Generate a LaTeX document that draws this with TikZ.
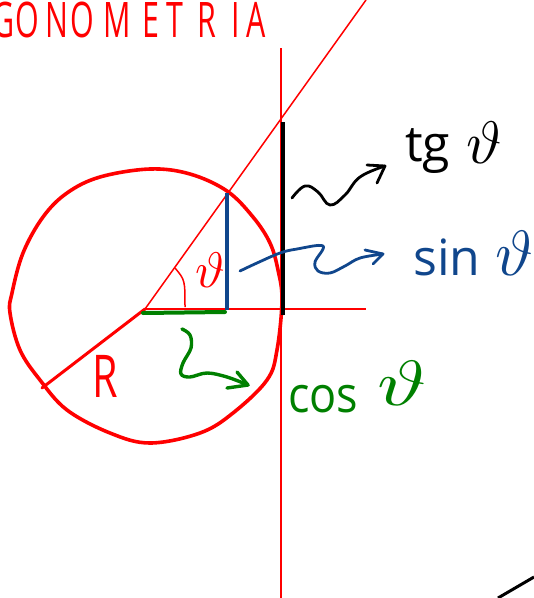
\documentclass[tikz,border=0pt]{standalone}
\usepackage{fontspec}
\setmainfont{Open Sans}
\definecolor{skred}{RGB}{255,0,0}
\definecolor{skblue}{RGB}{16,70,140}
\definecolor{skgreen}{RGB}{0,128,0}
\begin{document}
\begin{tikzpicture}[x=1pt,y=-1pt,
  thinred/.style={draw=skred,line width=1.5pt},
  thickred/.style={draw=skred,line width=3.6pt,line cap=round,line join=round},
  penline/.style={line width=2.8pt,line cap=round,line join=round},
  titleletter/.style={text=skred,anchor=base,xscale=0.62,inner sep=0pt,font=\fontsize{49}{50}\selectfont},
  lbl/.style={anchor=base west,inner sep=0pt,font=\fontsize{50}{60}\selectfont},
  thetasym/.style={inner sep=0pt}
]
\useasboundingbox (0,0) rectangle (534,598);
\clip (0,0) rectangle (534,598);

% title
\foreach \l/\x/\i in {G/4/1,O/27/2,N/57/3,O/82/4,M/117/5,E/151/6,T/175/7,R/207/8,I/236/9,A/256/10}
  \node[titleletter] (title\i) at (\x,37) {\l};

% key points
\coordinate (O) at (145,309);
\coordinate (Hend) at (366,309);
\coordinate (Dtop) at (366,0);
\coordinate (Vtop) at (281,48);
\coordinate (Vbot) at (281,598);
\coordinate (P) at (227,193);
\coordinate (Pfoot) at (227,310);
\coordinate (Gs) at (143,313);
\coordinate (Ge) at (225,312);
\coordinate (Ttop) at (283,122);
\coordinate (Tbot) at (283,315);
\coordinate (Rend) at (42,388);

% thin construction lines
\draw[thinred] (O) -- (Hend);
\draw[thinred] (O) -- (Dtop);
\draw[thinred] (Vtop) -- (Vbot);

% circle (hand drawn)
\draw[thickred] plot[smooth cycle,tension=0.6] coordinates {
 (10,313) (12,293) (23,253) (43,217) (67,193) (100,177) (150,169) (190,174)
 (227,191) (253,217) (270,243) (278,270) (282,300) (277,350) (267,380)
 (233,413) (200,433) (150,443) (110,433) (67,410) (40,380) (20,350)};

% radius
\draw[thickred,line width=3pt] (O) -- (Rend);

% angle arc
\draw[thinred] (175,268) .. controls (185,280) .. (185,307);

% segments
\draw[skblue,line width=3.5pt] (P) -- (Pfoot);
\draw[skgreen,line width=4pt,line cap=round] (Gs) -- (Ge);
\draw[black,line width=4.5pt] (Ttop) -- (Tbot);

% labels
\node[thetasym,text=skred,scale=5] (thetaA) at (210,270) {$\vartheta$};
\node[text=skred,anchor=base,inner sep=0pt,xscale=0.7,font=\fontsize{59}{60}\selectfont] (Rlbl) at (105,397) {R};

\node[lbl] (tg) at (405,161) {tg};
\node[thetasym,scale=6] (thetaT) at (484,143) {$\vartheta$};
\node[lbl,text=skblue] (sin) at (413,275) {sin};
\node[thetasym,text=skblue,scale=6.4] (thetaS) at (514,253) {$\vartheta$};
\node[lbl,text=skgreen,xscale=0.9] (cos) at (288,412) {cos};
\node[thetasym,text=skgreen,scale=6.4,xscale=1.3] (thetaC) at (402,383) {$\vartheta$};

% wavy arrows
\coordinate (tgtip) at (385,166);
\draw[black,penline] plot[smooth,tension=0.7] coordinates {(292,198) (305,186) (318,192) (330,205) (345,195) (360,177) (tgtip)};
\draw[black,penline] (367,165) -- (tgtip) -- (377,183);

\coordinate (sintip) at (383,254);
\draw[skblue,penline] plot[smooth,tension=0.6] coordinates {(240,271) (257,263) (280,253) (297,249) (323,246) (315,262) (318,271) (330,273) (345,266) (360,258) (sintip)};
\draw[skblue,penline] (365,250) -- (sintip) -- (373,264);

\coordinate (costip) at (248,385);
\draw[skgreen,penline,line width=3.4pt] plot[smooth,tension=0.6] coordinates {(182,329) (190,335) (191,348) (183,363) (181,374) (190,377) (207,373) (227,377) (costip)};
\draw[skgreen,penline,line width=3.4pt] (237,372) -- (costip) -- (227,388);

% corner stroke
\coordinate (c1) at (498,598);
\coordinate (c2) at (534,577);
\draw[black,line width=3pt] (c1) -- (c2);
\end{tikzpicture}
\end{document}
